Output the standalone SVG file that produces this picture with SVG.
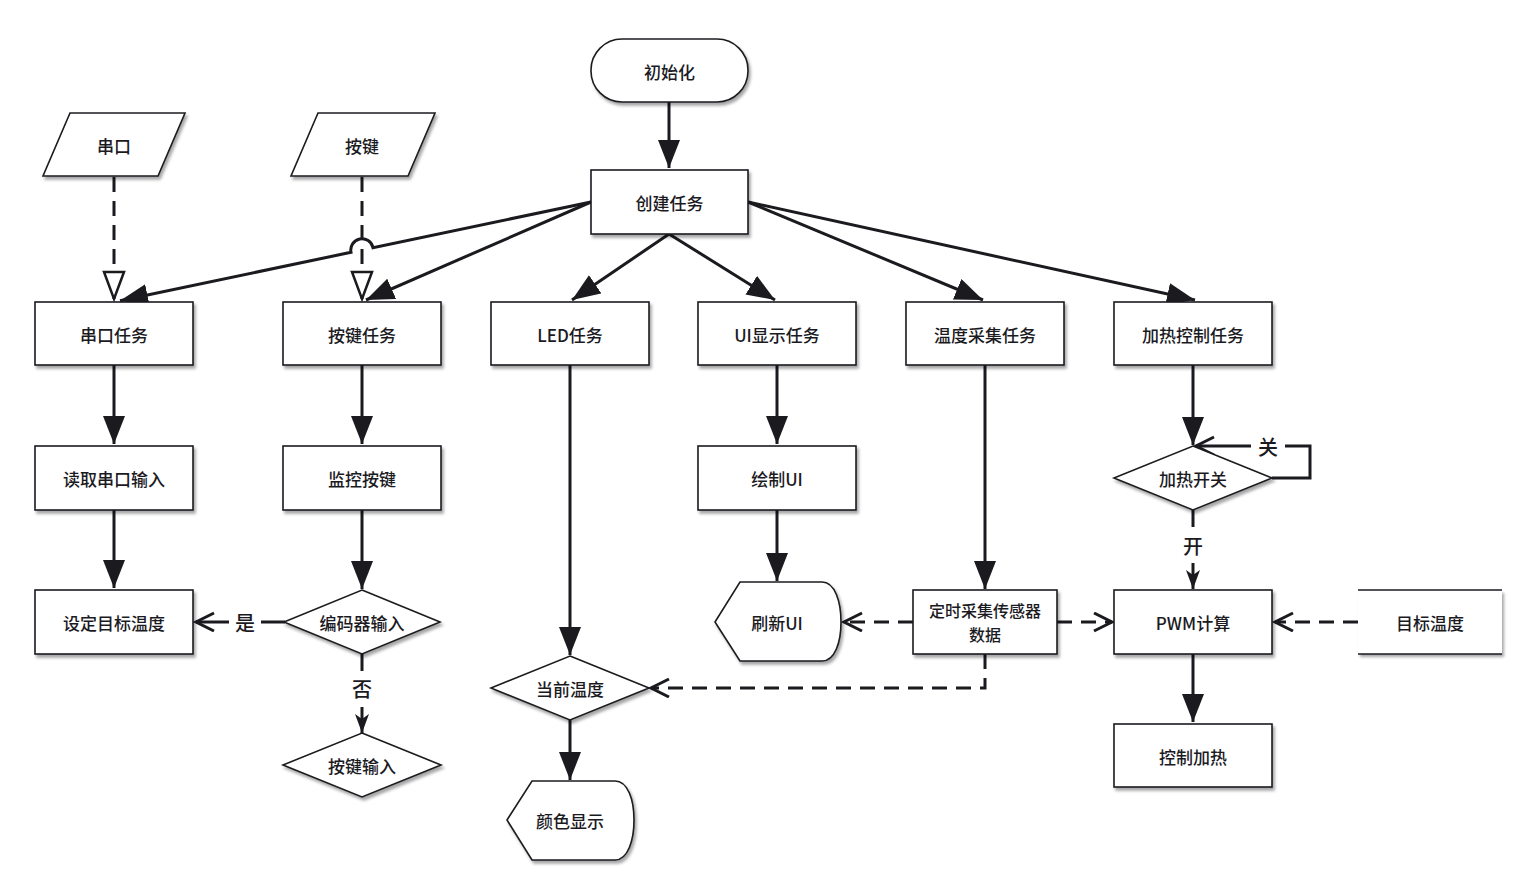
<svg xmlns="http://www.w3.org/2000/svg" width="1540" height="884" viewBox="0 0 1540 884">
<defs>
<filter id="sh" x="-10%" y="-10%" width="130%" height="140%">
<feDropShadow dx="2" dy="3" stdDeviation="1.5" flood-color="#000" flood-opacity="0.35"/>
</filter>
<marker id="af" markerUnits="userSpaceOnUse" markerWidth="30" markerHeight="24" refX="28" refY="11" orient="auto">
<path d="M0,0 L28,11 L0,22 z" fill="#1b1a1f"/>
</marker>
<marker id="ah" markerUnits="userSpaceOnUse" markerWidth="34" markerHeight="26" refX="29" refY="12" orient="auto">
<path d="M2,2 L29,12 L2,22 z" fill="#fff" stroke="#1b1a1f" stroke-width="2.5" stroke-linejoin="miter"/>
</marker>
<marker id="av" markerUnits="userSpaceOnUse" markerWidth="24" markerHeight="22" refX="20" refY="10" orient="auto">
<path d="M2,1 L20,10 L2,19" fill="none" stroke="#1b1a1f" stroke-width="3"/>
</marker>
<marker id="as" markerUnits="userSpaceOnUse" markerWidth="22" markerHeight="16" refX="19" refY="7" orient="auto">
<path d="M0,0 L19,7 L0,14 L5,7 z" fill="#1b1a1f"/>
</marker>
</defs>
<style>
.n{fill:#fff;stroke:#1b1a1f;stroke-width:1.6;filter:url(#sh)}
.t{font-family:"Noto Sans CJK SC","Liberation Sans",sans-serif;font-size:17px;font-weight:500;fill:#1b1a1f;text-anchor:middle;dominant-baseline:central}
.l{font-size:20px}
.s{font-size:16px}
.c{fill:none;stroke:#1b1a1f;stroke-width:3}
.d{fill:none;stroke:#1b1a1f;stroke-width:3;stroke-dasharray:15 9}
.bg{fill:#fff}
</style>
<rect width="1540" height="884" fill="#fff"/>

<g id="connectors">
<path class="c" d="M669,102 L669,168" marker-end="url(#af)"/>
<path class="c" d="M591,202 L373,247.7 A11.2,11.2 0 0 0 351,252.3 L120,300.7" marker-end="url(#af)"/>
<path class="c" d="M591,202 L366,300" marker-end="url(#af)"/>
<path class="c" d="M669,234 L572,300" marker-end="url(#af)"/>
<path class="c" d="M669,234 L775,300" marker-end="url(#af)"/>
<path class="c" d="M748,202 L983,300" marker-end="url(#af)"/>
<path class="c" d="M748,202 L1195,300" marker-end="url(#af)"/>
<path class="d" d="M114,177 L114,299" marker-end="url(#ah)"/>
<path class="d" d="M362,177 L362,299" marker-end="url(#ah)"/>
<path class="c" d="M114,365 L114,444" marker-end="url(#af)"/>
<path class="c" d="M114,510 L114,588" marker-end="url(#af)"/>
<path class="c" d="M362,365 L362,444" marker-end="url(#af)"/>
<path class="c" d="M362,510 L362,589" marker-end="url(#af)"/>
<path class="c" d="M285,622 L196,622" marker-end="url(#av)"/>
<path class="c" d="M362,654 L362,733" marker-end="url(#as)"/>
<path class="c" d="M570,365 L570,655" marker-end="url(#af)"/>
<path class="c" d="M570,720 L570,780" marker-end="url(#af)"/>
<path class="c" d="M777,365 L777,444" marker-end="url(#af)"/>
<path class="c" d="M777,510 L777,581" marker-end="url(#af)"/>
<path class="c" d="M985,365 L985,589" marker-end="url(#af)"/>
<path class="d" d="M913,622 L844,622" marker-end="url(#av)"/>
<path class="d" d="M1057,622 L1112,622" marker-end="url(#av)"/>
<path class="d" d="M985,654 L985,688 L651,688" marker-end="url(#av)"/>
<path class="d" d="M1358,622 L1275,622" marker-end="url(#av)"/>
<path class="c" d="M1193,365 L1193,445" marker-end="url(#af)"/>
<path class="c" d="M1272,478 L1310,478 L1310,446 L1196,446" marker-end="url(#av)"/>
<path class="c" d="M1193,510 L1193,589" marker-end="url(#as)"/>
<path class="c" d="M1193,654 L1193,722" marker-end="url(#af)"/>
<rect class="bg" x="229" y="608" width="32" height="28"/>
<text class="t l" x="245" y="622">是</text>
<rect class="bg" x="346" y="671" width="32" height="36"/>
<text class="t l" x="362" y="688">否</text>
<rect class="bg" x="1251" y="432" width="34" height="28"/>
<text class="t l" x="1268" y="446">关</text>
<rect class="bg" x="1177" y="527" width="32" height="36"/>
<text class="t l" x="1193" y="545">开</text>
</g>

<g id="init"><rect class="n" x="591" y="39" width="157" height="63" rx="31" ry="31"/><text class="t" x="669.5" y="71">初始化</text></g>
<g id="create"><rect class="n" x="591" y="170" width="157" height="64"/><text class="t" x="669.5" y="202">创建任务</text></g>

<g id="serial-in"><path class="n" d="M70,113 L185,113 L158,176 L43,176 z"/><text class="t" x="114" y="145">串口</text></g>
<g id="key-in"><path class="n" d="M318,113 L435,113 L408,176 L291,176 z"/><text class="t" x="362" y="145">按键</text></g>

<g id="serial-task"><rect class="n" x="35" y="302" width="158" height="63"/><text class="t" x="114" y="334">串口任务</text></g>
<g id="key-task"><rect class="n" x="283" y="302" width="158" height="63"/><text class="t" x="362" y="334">按键任务</text></g>
<g id="led-task"><rect class="n" x="491" y="302" width="158" height="63"/><text class="t" x="570" y="334">LED任务</text></g>
<g id="ui-task"><rect class="n" x="698" y="302" width="158" height="63"/><text class="t" x="777" y="334">UI显示任务</text></g>
<g id="temp-task"><rect class="n" x="906" y="302" width="158" height="63"/><text class="t" x="985" y="334">温度采集任务</text></g>
<g id="heat-task"><rect class="n" x="1114" y="302" width="158" height="63"/><text class="t" x="1193" y="334">加热控制任务</text></g>

<g id="read-serial"><rect class="n" x="35" y="446" width="158" height="64"/><text class="t" x="114" y="478">读取串口输入</text></g>
<g id="set-target"><rect class="n" x="35" y="590" width="158" height="64"/><text class="t" x="114" y="622">设定目标温度</text></g>

<g id="monitor-key"><rect class="n" x="283" y="446" width="158" height="64"/><text class="t" x="362" y="478">监控按键</text></g>
<g id="encoder"><path class="n" d="M362,590 L440,622 L362,654 L284,622 z"/><text class="t" x="362" y="622">编码器输入</text></g>
<g id="key-input"><path class="n" d="M362,733 L441,765 L362,797 L283,765 z"/><text class="t" x="362" y="765">按键输入</text></g>

<g id="cur-temp"><path class="n" d="M570,656 L649,688 L570,720 L491,688 z"/><text class="t" x="570" y="688">当前温度</text></g>
<g id="color-disp"><path class="n" d="M507,820 L532,781 L615,781 C628,781 634,800 634,820 C634,840 628,860 615,860 L532,860 z"/><text class="t" x="570" y="820">颜色显示</text></g>

<g id="draw-ui"><rect class="n" x="698" y="446" width="158" height="64"/><text class="t" x="777" y="478">绘制UI</text></g>
<g id="refresh-ui"><path class="n" d="M715,622 L740,582 L822,582 C835,582 841,602 841,622 C841,642 835,661 822,661 L740,661 z"/><text class="t" x="777" y="622">刷新UI</text></g>

<g id="sample"><rect class="n" x="913" y="590" width="144" height="64"/><text class="t s" x="985" y="610">定时采集传感器</text><text class="t s" x="985" y="634">数据</text></g>

<g id="heat-switch"><path class="n" d="M1193,446 L1272,478 L1193,510 L1114,478 z"/><text class="t" x="1193" y="478">加热开关</text></g>
<g id="pwm"><rect class="n" x="1114" y="590" width="158" height="64"/><text class="t" x="1193" y="622">PWM计算</text></g>
<g id="ctrl-heat"><rect class="n" x="1114" y="724" width="158" height="63"/><text class="t" x="1193" y="756">控制加热</text></g>
<g id="target-temp"><rect x="1358" y="590" width="144" height="64" fill="#fff" filter="url(#sh)"/><path d="M1358,590 L1502,590 M1358,654 L1502,654" stroke="#1b1a1f" stroke-width="1.6"/><text class="t" x="1430" y="622">目标温度</text></g>
</svg>
